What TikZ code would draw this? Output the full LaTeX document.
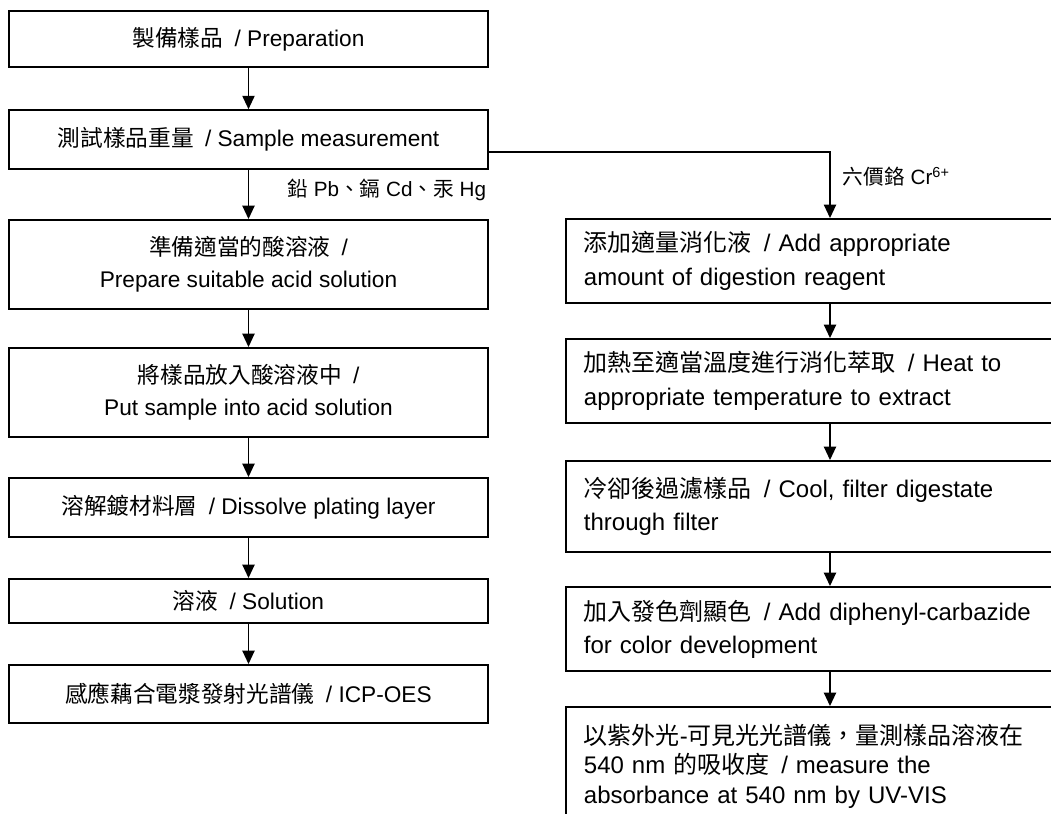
\documentclass[tikz,border=0pt]{standalone}
\usepackage{fontspec}
\setmainfont{Liberation Sans}
\newfontfamily\cjk{Noto Sans CJK TC}
\newcommand{\zh}[1]{{\cjk #1}}
\usetikzlibrary{arrows.meta}

\begin{document}
\begin{tikzpicture}[x=0.75pt,y=-0.75pt,line width=1.4pt,
  box/.style={draw,rectangle,inner sep=0pt,minimum width=359.25pt,align=center,font=\fontsize{17}{24}\selectfont},
  rbox/.style={draw,rectangle,inner xsep=13.5pt,inner ysep=0pt,text width=420pt,align=left,anchor=west,font=\fontsize{18}{25}\selectfont},
  flow/.style={-{Triangle[width=9pt,length=10pt]}},
  tag/.style={inner sep=0pt,font=\fontsize{15.5}{20}\selectfont}] % Test flow chart
       \useasboundingbox (0,0) rectangle (1051,814);
       \clip (0,0) rectangle (1051,814);
       % left column
       \node[box,minimum height=42pt] (prep) at (248.5,39) {\zh{製備樣品}\enspace/ Preparation};
       \node[box,minimum height=44pt] (sample) at (248.5,139.5) {\zh{測試樣品重量}\enspace/ Sample measurement};
       \node[box,minimum height=66.75pt] (acid) at (248.5,264.5) {\zh{準備適當的酸溶液}\enspace/\\Prepare suitable acid solution};
       \node[box,minimum height=66.75pt] (putin) at (248.5,392.5) {\zh{將樣品放入酸溶液中}\enspace/\\Put sample into acid solution};
       \node[box,minimum height=44.25pt] (dissolve) at (248.5,507.5) {\zh{溶解鍍材料層}\enspace/ Dissolve plating layer};
       \node[box,minimum height=33pt] (solution) at (248.5,601) {\zh{溶液}\enspace/ Solution};
       \node[box,minimum height=43.5pt] (icp) at (248.5,694) {\zh{感應藕合電漿發射光譜儀}\enspace/ ICP-OES};
       % right column
       \node[rbox,minimum height=63pt] (digest) at (565,261) {\zh{添加適量消化液}\enspace/ Add appropriate\\amount of digestion reagent};
       \node[rbox,minimum height=63pt] (heat) at (565,381) {\zh{加熱至適當溫度進行消化萃取}\enspace/ Heat to\\appropriate temperature to extract};
       \node[rbox,minimum height=68.25pt] (filter) at (565,506.5) {\zh{冷卻後過濾樣品}\enspace/ Cool, filter digestate\\through filter};
       \node[rbox,minimum height=63pt] (color) at (565,629) {\zh{加入發色劑顯色}\enspace/ Add diphenyl-carbazide\\for color development};
       \node[rbox,minimum height=88.5pt,font=\fontsize{18}{22}\selectfont] (uvvis) at (565,766) {\zh{以紫外光}-\zh{可見光光譜儀，量測樣品溶液在}\\540 nm \zh{的吸收度}\enspace/ measure the\\absorbance at 540 nm by UV-VIS};
       \node[tag,anchor=east] (metals) at (487,190) {\zh{鉛} Pb\zh{、鎘} Cd\zh{、汞} Hg};
       \node[tag,anchor=west] (chrom) at (842,177) {\zh{六價鉻} Cr\textsuperscript{6+}};
       \coordinate (turn) at (830,152);
       \draw[flow] (prep) -- (sample);
       \draw[flow] (sample) -- (acid);
       \draw[flow] (acid) -- (putin);
       \draw[flow] (putin) -- (dissolve);
       \draw[flow] (dissolve) -- (solution);
       \draw[flow] (solution) -- (icp);
       \draw[flow] (sample.east |- turn) -- (turn) -- (turn |- digest.north);
       \draw[flow] (turn |- digest.south) -- (turn |- heat.north);
       \draw[flow] (turn |- heat.south) -- (turn |- filter.north);
       \draw[flow] (turn |- filter.south) -- (turn |- color.north);
       \draw[flow] (turn |- color.south) -- (turn |- uvvis.north);
   \end{tikzpicture}
\end{document}
